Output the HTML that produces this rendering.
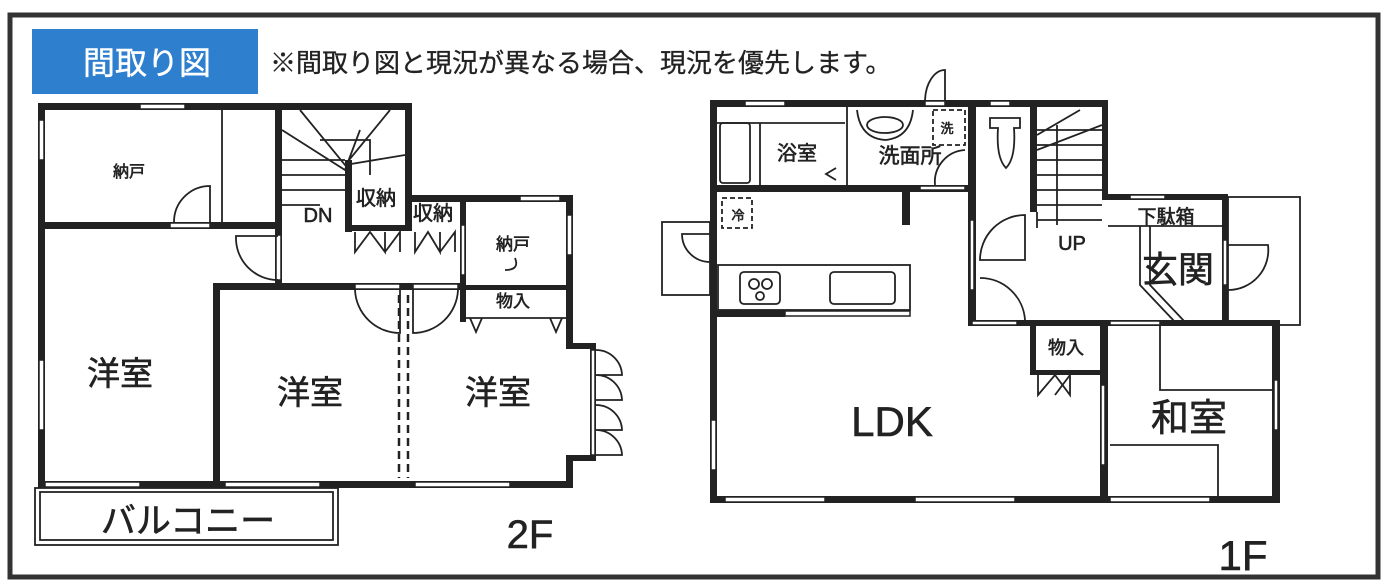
<!DOCTYPE html>
<html><head><meta charset="utf-8"><style>
html,body{margin:0;padding:0;background:#fff}
svg{display:block}
text{font-family:"Liberation Sans","Noto Sans CJK JP",sans-serif;fill:#222;stroke:#222;stroke-width:0.6}
</style></head><body>
<svg width="1386" height="588" viewBox="0 0 1386 588" xmlns="http://www.w3.org/2000/svg">
<rect x="10" y="15" width="1368" height="562" fill="none" stroke="#333" stroke-width="5"/>
<rect x="32" y="29" width="226" height="65" fill="#2f7fcf"/>
<text x="147" y="74" font-size="32" text-anchor="middle" style="fill:#fff;stroke:#fff;stroke-width:0.4">間取り図</text>
<text x="270" y="72" font-size="26" style="stroke-width:0.3">※間取り図と現況が異なる場合、現況を優先します。</text>

<g fill="#222">
<rect x="38" y="103" width="374" height="7"/>
<rect x="38" y="103" width="7" height="385"/>
<rect x="38" y="222" width="244" height="7"/>
<rect x="275" y="103" width="7" height="180"/>
<rect x="405" y="103" width="7" height="128"/>
<rect x="345" y="160" width="7" height="72"/>
<rect x="345" y="225" width="67" height="6"/>
<rect x="405" y="195" width="168" height="7"/>
<rect x="566" y="195" width="7" height="152"/>
<rect x="566" y="343" width="30" height="6"/>
<rect x="590" y="343" width="6" height="118"/>
<rect x="566" y="455" width="30" height="6"/>
<rect x="566" y="455" width="7" height="33"/>
<rect x="38" y="481" width="535" height="7"/>
<rect x="213" y="283" width="7" height="205"/>
<rect x="213" y="283" width="253" height="7"/>
<rect x="460" y="200" width="6" height="122"/>
<rect x="460" y="285" width="112" height="5"/>
<rect x="710" y="100" width="398" height="7"/>
<rect x="710" y="100" width="7" height="403"/>
<rect x="710" y="496" width="570" height="7"/>
<rect x="710" y="185" width="262" height="7"/>
<rect x="902" y="192" width="8" height="33"/>
<rect x="968" y="100" width="8" height="226"/>
<rect x="1030" y="107" width="7" height="105"/>
<rect x="1102" y="100" width="6" height="100"/>
<rect x="1102" y="194" width="126" height="6"/>
<rect x="1222" y="194" width="6" height="132"/>
<rect x="970" y="320" width="310" height="6"/>
<rect x="1272" y="320" width="8" height="183"/>
<rect x="1100" y="325" width="8" height="178"/>
<rect x="1030" y="325" width="6" height="50"/>
<rect x="1030" y="370" width="78" height="5"/>
<rect x="710" y="310" width="75" height="7"/>
</g>

<g fill="#fff" stroke="#222" stroke-width="1.5">
<rect x="140" y="104" width="45" height="5"/>
<rect x="39" y="120" width="5" height="40"/>
<rect x="39" y="360" width="5" height="70"/>
<rect x="45" y="482" width="95" height="5"/>
<rect x="225" y="482" width="95" height="5"/>
<rect x="415" y="482" width="95" height="5"/>
<rect x="170" y="223" width="40" height="5"/>
<rect x="276" y="235" width="5" height="45"/>
<rect x="520" y="196" width="40" height="5"/>
<rect x="567" y="215" width="5" height="40"/>
<rect x="461" y="225" width="4" height="50"/>
<rect x="591" y="350" width="4" height="105"/>
<rect x="355" y="284" width="45" height="5"/>
<rect x="413" y="284" width="45" height="5"/>
<rect x="745" y="101" width="40" height="5"/>
<rect x="925" y="101" width="20" height="5"/>
<rect x="990" y="101" width="20" height="5"/>
<rect x="711" y="420" width="5" height="50"/>
<rect x="725" y="497" width="100" height="5"/>
<rect x="915" y="497" width="100" height="5"/>
<rect x="1110" y="497" width="100" height="5"/>
<rect x="970" y="220" width="4" height="70"/>
<rect x="1274" y="380" width="4" height="50"/>
<rect x="1101" y="385" width="4" height="80"/>
<rect x="1130" y="195" width="35" height="4"/>
<rect x="1110" y="321" width="50" height="4"/>
<rect x="972" y="321" width="45" height="4"/>
<rect x="920" y="186" width="45" height="4"/>
<rect x="785" y="311" width="125" height="5"/>
<rect x="1223" y="240" width="4" height="45"/>
</g>

<g fill="none" stroke="#222" stroke-width="1.8">
<line x1="222" y1="110" x2="222" y2="222"/>
<path d="M210 222 V186 A36 36 0 0 0 174 222"/>
<path d="M278 280 A42 42 0 0 1 236 236 H278"/>
<path d="M355 290 A45 45 0 0 0 400 333 V290"/>
<path d="M458 290 A45 45 0 0 1 413 333 V290"/>
<path d="M355 232 V252 L370 232 L385 252 V232 M385 252 L400 232 V252"/>
<path d="M415 232 V252 L428 232 L440 252 V232 M440 252 L455 232 V252"/>
<line x1="399" y1="295" x2="399" y2="478" stroke-dasharray="8 5" stroke-width="2.5"/>
<line x1="408" y1="295" x2="408" y2="478" stroke-dasharray="8 5" stroke-width="2.5"/>
<line x1="466" y1="318" x2="566" y2="318"/>
<path d="M470 318 l6 14 l6 -14 M550 318 l6 14 l6 -14"/>
<path d="M282 160 H345 M282 175 H345 M282 190 H345 M282 205 H320 M320 140 H370 V175 M282 130 L345 170 L360 130 M345 165 L405 155 M300 110 L345 165 L390 110"/>
<path d="M596 350 A26 26 0 0 1 622 375 H596 M596 375 A26 26 0 0 1 622 400 H596 M596 405 A26 26 0 0 1 622 430 H596 M596 430 A26 26 0 0 1 622 455 H596"/>
<path d="M515 258 Q520 270 505 270"/>
<rect x="35" y="488" width="303" height="57"/>
<rect x="40" y="492" width="293" height="48"/>
<rect x="720" y="123" width="30" height="60" rx="3"/>
<line x1="717" y1="123" x2="845" y2="123"/>
<line x1="760" y1="123" x2="760" y2="185"/>
<line x1="847" y1="107" x2="847" y2="185"/>
<path d="M836 180 L826 174 L836 168"/>
<ellipse cx="885" cy="125" rx="18" ry="8"/>
<path d="M857 110 Q860 138 885 140 Q910 138 913 110"/>
<rect x="933" y="110" width="32" height="35" stroke-dasharray="5 3"/>
<path d="M935 185 A32 32 0 0 1 965 150"/>
<path d="M925 100 A20 32 0 0 1 945 70 V100"/>
<path d="M990 118 h30 v10 h-6 q2 30 -8 40 q-10 -10 -8 -40 h-8 z"/>
<path d="M1037 130 H1102 M1037 145 H1102 M1037 160 H1102 M1037 175 H1102 M1037 190 H1102 M1037 205 H1102 M1037 220 H1102 M1057 125 V225 M1037 135 L1080 110 M1037 150 L1102 125"/>
<line x1="1037" y1="212" x2="1037" y2="228"/>
<rect x="722" y="198" width="30" height="30" stroke-dasharray="5 3"/>
<rect x="662" y="222" width="48" height="73"/>
<path d="M710 262 A28 28 0 0 1 682 234 H710"/>
<rect x="718" y="265" width="192" height="45"/>
<rect x="740" y="272" width="40" height="32" rx="4"/>
<circle cx="754" cy="284" r="5"/><circle cx="767" cy="284" r="5"/><circle cx="760" cy="296" r="4"/>
<rect x="830" y="272" width="65" height="32" rx="4"/>
<path d="M1025 260 V215 A45 45 0 0 0 980 260 Z"/>
<path d="M1025 320 A45 45 0 0 0 980 278"/>
<line x1="1108" y1="226" x2="1222" y2="226"/>
<path d="M1140 226 V285 L1175 322 M1150 226 V285 L1185 322"/>
<rect x="1228" y="197" width="72" height="128"/>
<path d="M1228 290 A40 40 0 0 0 1268 245 H1228"/>
<path d="M1070 375 V395 L1055 375 M1055 395 L1070 375 M1038 375 V395 L1055 375"/>
<path d="M1160 326 V390 H1272 M1110 445 H1218 V496"/>
</g>

<g text-anchor="middle">
<text x="129" y="177" font-size="16">納戸</text>
<text x="513" y="250" font-size="17">納戸</text>
<text x="513" y="307" font-size="17">物入</text>
<text x="433" y="220" font-size="20">収納</text>
<text x="376" y="205" font-size="20">収納</text>
<text x="318" y="222" font-size="20">DN</text>
<text x="120" y="385" font-size="33">洋室</text>
<text x="310" y="404" font-size="33">洋室</text>
<text x="498" y="404" font-size="33">洋室</text>
<text x="188" y="533" font-size="35">バルコニー</text>
<text x="530" y="548" font-size="40">2F</text>
<text x="797" y="160" font-size="20">浴室</text>
<text x="910" y="163" font-size="21">洗面所</text>
<text x="947" y="133" font-size="13">洗</text>
<text x="738" y="220" font-size="13">冷</text>
<text x="1072" y="250" font-size="20">UP</text>
<text x="1166" y="223" font-size="19">下駄箱</text>
<text x="1178" y="282" font-size="36">玄関</text>
<text x="1066" y="354" font-size="18">物入</text>
<text x="892" y="436" font-size="42">LDK</text>
<text x="1189" y="431" font-size="38">和室</text>
<text x="1243" y="570" font-size="42">1F</text>
</g>
</svg>
</body></html>
